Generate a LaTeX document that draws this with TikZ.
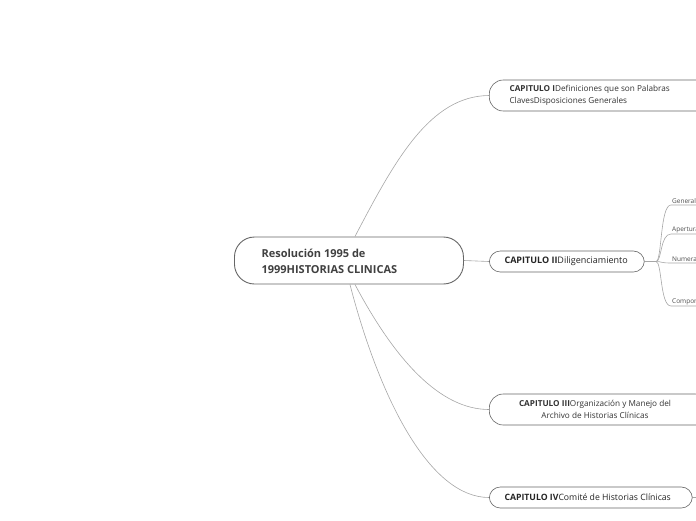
\documentclass[tikz,border=0pt]{standalone}
\usepackage{fontspec}
\setmainfont{Open Sans}
\begin{document}
\begin{tikzpicture}[x=1pt,y=-1pt,
  box/.style={draw=black!60,line width=0.6pt,rounded corners=11pt,fill=white,anchor=west,inner sep=0pt,text=black!85},
  con/.style={draw=black!35,line width=0.6pt},
  sub/.style={font=\fontsize{6.5}{7}\selectfont,text=black!70,anchor=south west,inner sep=1pt}]
\useasboundingbox (0,0) rectangle (696,520);
\clip (0,0) rectangle (696,520);
\node[box,minimum width=229pt,minimum height=47pt,rounded corners=20pt,line width=0.9pt] (root) at (234,260.5) {};
\node[anchor=west,align=left,font=\bfseries\fontsize{11}{16}\selectfont,text=black!75] at (258,261) {Resolución 1995 de\\1999HISTORIAS CLINICAS};
\node[box,minimum width=220pt,minimum height=31pt,rounded corners=14pt] (c1) at (489,95.5) {};
\node[anchor=west,align=left,font=\fontsize{8.2}{11.5}\selectfont,text=black!80] at (506,95.5) {\textbf{CAPITULO I}Definiciones que son Palabras\\ClavesDisposiciones Generales};
\node[box,minimum width=155pt,minimum height=21pt] (c2) at (489,261.5) {};
\node[anchor=west,font=\fontsize{9}{10}\selectfont,text=black!85] at (501,261.5) {\textbf{CAPITULO II}Diligenciamiento};
\node[box,minimum width=220pt,minimum height=31pt,rounded corners=14pt] (c3) at (489,409.5) {};
\node[align=center,font=\fontsize{8.2}{11.5}\selectfont,text=black!80] at (595,409.5) {\textbf{CAPITULO III}Organización y Manejo del\\Archivo de Historias Clínicas};
\node[box,minimum width=203pt,minimum height=21pt] (c4) at (489,497.5) {};
\node[anchor=west,font=\fontsize{8.7}{10}\selectfont,text=black!85] at (501,497.5) {\textbf{CAPITULO IV}Comité de Historias Clínicas};
\draw[con] (root.north) ++(6,0) .. controls (395,160) and (430,96) .. (c1.west);
\draw[con] (root.east) -- (c2.west);
\draw[con] (root.south) ++(6,0) .. controls (395,360) and (440,409.5) .. (c3.west);
\draw[con] (root.south) ++(1,0) .. controls (380,400) and (430,497.5) .. (c4.west);
\draw[con] (c4.east) -- (700,497.5);
\coordinate (hub) at (656,261.5);
\draw[con] (c2.east) -- (hub);
\foreach \y/\t/\n in {205/Generalidades/s1,234/Apertura/s2,263/Numeración/s3,306/Componentes/s4}{
  \node[sub] (\n) at (671,\y) {\t};
  \coordinate (e\n) at (700,\y);
  \draw[con] (hub) .. controls (662,261.5) and (660,\y) .. (671,\y) -- (e\n);
}
\end{tikzpicture}
\end{document}
